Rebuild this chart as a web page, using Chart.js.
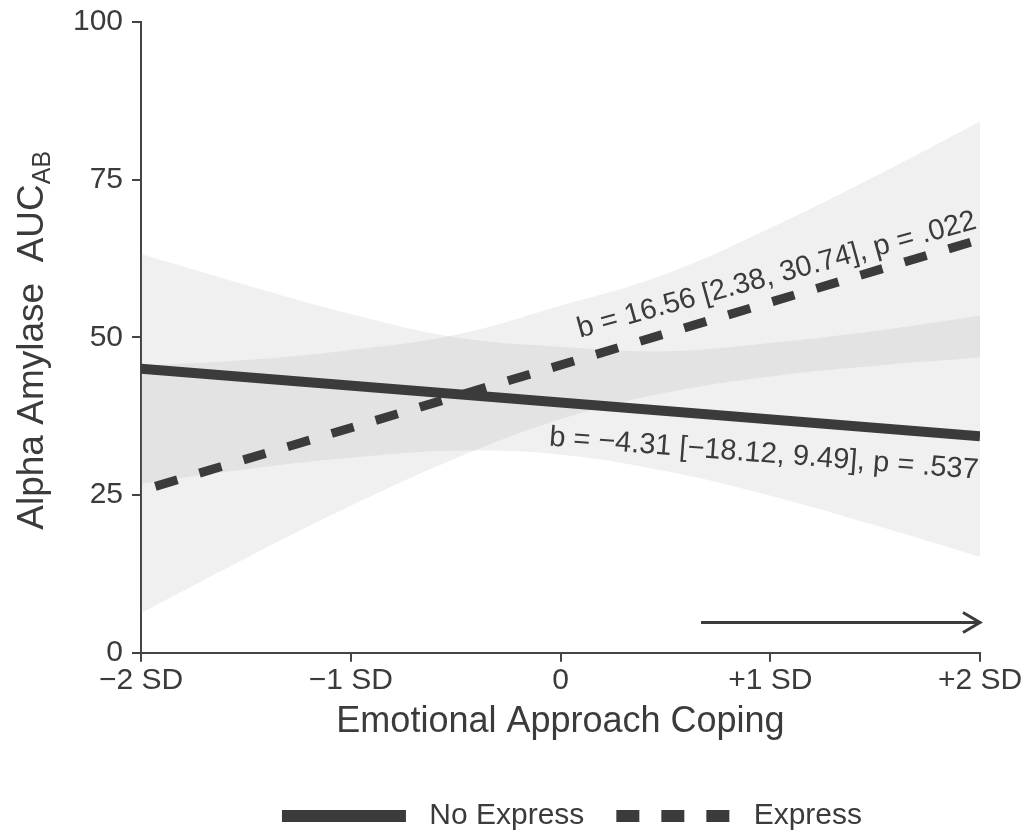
<!DOCTYPE html>
<html>
<head>
<meta charset="utf-8">
<script src="https://cdn.jsdelivr.net/npm/chart.js@4.4.0/dist/chart.umd.min.js"></script>
<style>
  html, body { margin: 0; padding: 0; background: #fff; }
</style>
</head>
<body>
<canvas id="chart" width="1032" height="837"></canvas>
<script>
// x axis in SD units of emotional approach coping
const xTicks = [-2, -1, 0, 1, 2];
const xTickLabels = ['\u22122 SD', '\u22121 SD', '0', '+1 SD', '+2 SD'];
const yTicks = [0, 25, 50, 75, 100];

// simple slopes (ends at -2 SD / +2 SD)
const lineX = [-2, 2];
const noExpressLine = [45.0, 34.3];
const expressLine = [25.7, 65.5];

const bandX = [-2, -1.5, -1, -0.5, 0, 0.5, 1, 1.5, 2];
const noExpressUpper = [63.2, 58.3, 53.7, 50.0, 48.5, 47.8, 49.1, 51.0, 53.4];
const noExpressLower = [26.8, 29.1, 30.9, 32.0, 31.4, 28.8, 24.9, 20.2, 15.2];
const expressUpper = [45.5, 46.4, 48.0, 50.4, 55.0, 60.0, 67.3, 75.5, 84.2];
const expressLower = [6.3, 15.0, 23.3, 30.8, 37.0, 41.2, 43.8, 45.5, 46.8];

// arrow under the lines
const arrowX = [0.67, 2];
const arrowY = [4.8, 4.8];

const seriesNames = ['No Express', 'Express'];
const slopeNotes = ['b = 16.56 [2.38, 30.74], p = .022', 'b = \u22124.31 [\u221218.12, 9.49], p = .537'];

const FONT = '"Liberation Sans", Arial, sans-serif';
const INK = '#3b3b3b';
const AXIS = '#444';
const BAND = 'rgba(142,142,142,0.13)';

Chart.defaults.font.family = FONT;

const pts = (xs, ys) => xs.map((x, i) => ({ x: x, y: ys[i] }));

function band(lo, hi) {
    return [
        { data: pts(bandX, lo), borderWidth: 0, pointRadius: 0, fill: false, tension: 0.4, order: 2 },
        { data: pts(bandX, hi), borderWidth: 0, pointRadius: 0, fill: '-1', backgroundColor: BAND, tension: 0.4, order: 2 }
    ];
}

// where the slope labels sit (right-aligned, rotated)
const noteSpots = [
    { x: 1.99, y: 67.3, angle: -15.4 },
    { x: 1.99, y: 27.6, angle: 4.4 }
];

const notesPlugin = {
    id: 'slopeNotes',
    afterDatasetsDraw(chart) {
        const { ctx, scales } = chart;
        ctx.save();
        ctx.fillStyle = INK;
        ctx.font = '29px ' + FONT;
        ctx.textAlign = 'right';
        ctx.textBaseline = 'alphabetic';
        slopeNotes.forEach((t, i) => {
            const s = noteSpots[i];
            ctx.save();
            ctx.translate(scales.x.getPixelForValue(s.x), scales.y.getPixelForValue(s.y));
            ctx.rotate(s.angle * Math.PI / 180);
            ctx.fillText(t, 0, 0);
            ctx.restore();
        });
        ctx.restore();
    }
};

// open arrow head at the end of the arrow dataset
const arrowHeadPlugin = {
    id: 'arrowHead',
    afterDatasetsDraw(chart) {
        const meta = chart.getDatasetMeta(2);
        const tip = meta.data[meta.data.length - 1];
        const ctx = chart.ctx;
        ctx.save();
        ctx.strokeStyle = INK;
        ctx.lineWidth = 3;
        ctx.beginPath();
        ctx.moveTo(tip.x - 17, tip.y - 10);
        ctx.lineTo(tip.x, tip.y);
        ctx.lineTo(tip.x - 17, tip.y + 10);
        ctx.stroke();
        ctx.restore();
    }
};

// y title needs a subscript, so it is drawn by hand
const yTitlePlugin = {
    id: 'yTitle',
    afterDraw(chart) {
        const { ctx, chartArea } = chart;
        const main = 'Alpha Amylase  AUC', sub = 'AB';
        ctx.save();
        ctx.fillStyle = INK;
        ctx.font = '37px ' + FONT;
        const wMain = ctx.measureText(main).width;
        ctx.font = '25px ' + FONT;
        const wSub = ctx.measureText(sub).width;
        const cy = (chartArea.top + chartArea.bottom) / 2 + 3;
        ctx.translate(43, cy + (wMain + wSub) / 2);
        ctx.rotate(-Math.PI / 2);
        ctx.textAlign = 'left';
        ctx.textBaseline = 'alphabetic';
        ctx.font = '37px ' + FONT;
        ctx.fillText(main, 0, 0);
        ctx.font = '25px ' + FONT;
        ctx.fillText(sub, wMain, 7);
        ctx.restore();
    }
};

// legend sits a bit right of centre and low in the original
const legendShift = {
    id: 'legendShift',
    afterLayout(chart) {
        chart.legend.left += 82;
        chart.legend.right += 82;
        chart.legend.top += 4;
        chart.legend.bottom += 4;
    }
};

new Chart(document.getElementById('chart'), {
    type: 'line',
    data: {
        datasets: [
            { label: seriesNames[0], data: pts(lineX, noExpressLine), borderColor: INK, borderWidth: 10,
              pointRadius: 0, pointStyle: 'line', fill: false, order: 0 },
            { label: seriesNames[1], data: pts(lineX, expressLine), borderColor: INK, borderWidth: 9,
              borderDash: [23, 23], borderDashOffset: 31, borderCapStyle: 'butt',
              pointRadius: 0, pointStyle: 'line', fill: false, order: 0 },
            { data: pts(arrowX, arrowY), borderColor: INK, borderWidth: 3, pointRadius: 0, fill: false, order: 0 },
            ...band(noExpressLower, noExpressUpper),
            ...band(expressLower, expressUpper)
        ]
    },
    options: {
        responsive: false,
        animation: false,
        layout: { padding: { top: 4, right: 52, bottom: 0, left: 0 } },
        plugins: {
            tooltip: { enabled: false },
            legend: {
                position: 'bottom',
                labels: {
                    usePointStyle: true,
                    pointStyleWidth: 124,
                    boxHeight: 12,
                    padding: 22,
                    color: INK,
                    font: { size: 30 },
                    generateLabels: chart => Chart.defaults.plugins.legend.labels.generateLabels(chart)
                        .filter(item => item.datasetIndex < 2)
                        .map(item => Object.assign(item, {
                            text: ' ' + item.text,
                            lineWidth: 12,
                            lineDash: item.datasetIndex === 1 ? [23, 22] : [],
                            lineDashOffset: 35,
                            lineCap: 'butt'
                        }))
                }
            }
        },
        scales: {
            x: {
                type: 'linear', min: -2, max: 2,
                afterBuildTicks: s => { s.ticks = xTicks.map(v => ({ value: v })); },
                grid: { drawOnChartArea: false, tickLength: 9, color: AXIS, lineWidth: 2 },
                border: { color: AXIS, width: 2 },
                ticks: { color: INK, font: { size: 30, lineHeight: 1 }, padding: 4, maxRotation: 0, autoSkip: false,
                         callback: (v, i) => xTickLabels[i] },
                title: { display: true, text: 'Emotional Approach Coping', color: INK,
                         font: { size: 36 }, padding: { top: 1, bottom: 31 } }
            },
            y: {
                min: 0, max: 100,
                afterBuildTicks: s => { s.ticks = yTicks.map(v => ({ value: v })); },
                afterFit: s => { s.width = 141; },
                grid: { drawOnChartArea: false, tickLength: 9, color: AXIS, lineWidth: 2 },
                border: { color: AXIS, width: 2 },
                ticks: { color: INK, font: { size: 30, lineHeight: 0.85 }, padding: 9 }
            }
        }
    },
    plugins: [notesPlugin, arrowHeadPlugin, yTitlePlugin, legendShift]
});
</script>
</body>
</html>
